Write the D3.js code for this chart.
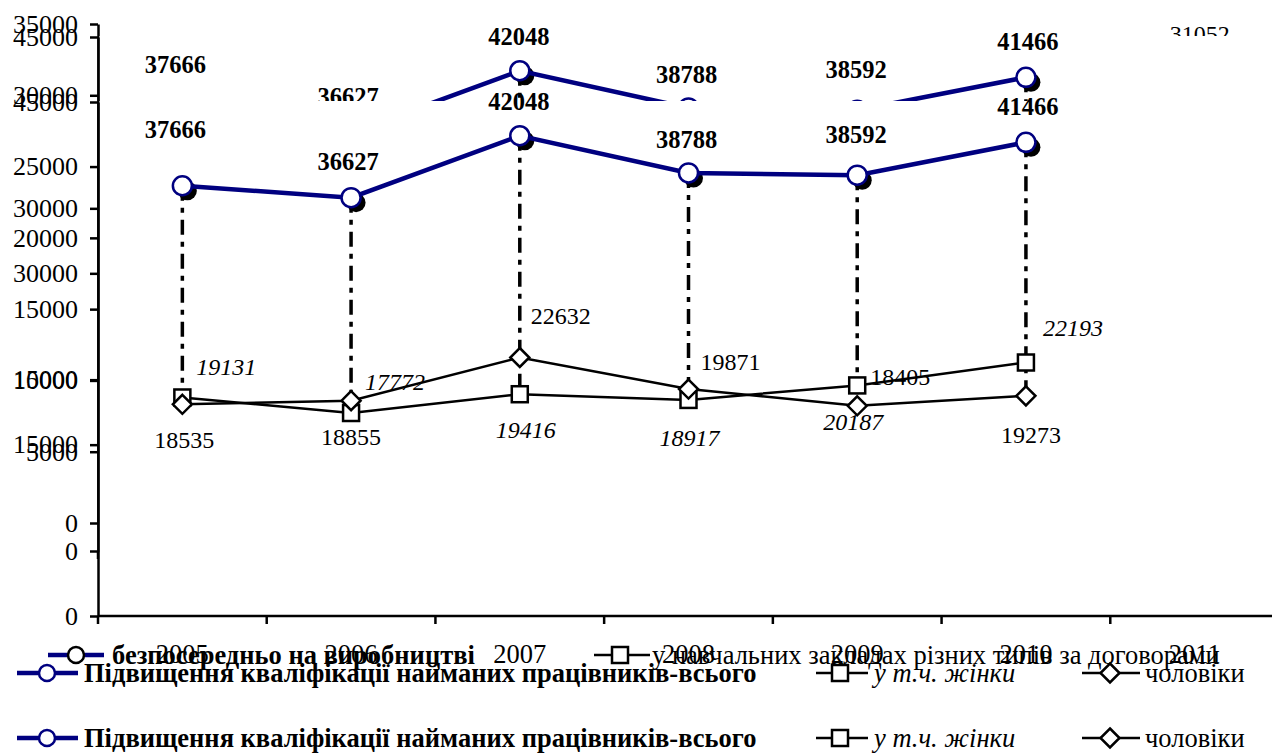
<!DOCTYPE html>
<html><head><meta charset="utf-8">
<script src="https://cdn.jsdelivr.net/npm/d3@7"></script>
<style>
body{margin:0;background:#fff;overflow:hidden}
text{font-family:"Liberation Serif","Times New Roman",serif;fill:#000}
</style>
</head><body>
<svg id="chart" width="1272" height="753"></svg>
<script>
// ---------- data ----------
const years = ["2005","2006","2007","2008","2009","2010","2011"];
const totalWorkers = [37666, 36627, 42048, 38788, 38592, 41466];
const women = [19131, 17772, 19416, 18917, 20187, 22193];
const men = [18535, 18855, 22632, 19871, 18405, 19273];
const directProductionYears = ["2011"];
const directProduction = [31052];
const ticksBack = [0, 5000, 10000, 15000, 20000, 25000, 30000, 35000];
const ticksMain = [0, 15000, 30000, 45000];
const nameTotal = "Підвищення кваліфікації найманих працівників-всього";
const nameWomen = "у т.ч. жінки";
const nameMen = "чоловіки";
const nameDirect = "безпосередньо на виробництві";
const nameSchools = "у навчальних закладах різних типів за договорами";

// label nudges (manual placement, as in the source)
const totalNudge = [[-7,-48],[-3,-28],[-1,-26],[-2,-25],[-1,-32],[2,-27]];
const womenNudge = [[44,-22],[44,-23],[6,44],[1,46],[-4,45],[47,-27]];
const menNudge = [[2,44],[0,44],[41,-33],[42,-19],[43,-21],[5,47]];

// ---------- setup ----------
const FONT = "Liberation Serif";
const svg = d3.select("#chart");
const NAVY = "#000080";
const x = d3.scaleBand().domain(years).range([98, 1279]).padding(0);
const cx = d => x(d) + x.bandwidth() / 2;
const yBack = d3.scaleLinear().domain([0, 35000]).range([523, 24]);
const yUpper = d3.scaleLinear().domain([0, 45000]).range([551, 37]);
const yMain = d3.scaleLinear().domain([0, 45000]).range([616, 102]);

function yAxis(g, y, ticks) {
  const ax = g.append("g").attr("transform", "translate(98,0)")
    .call(d3.axisLeft(y).tickValues(ticks).tickSize(8).tickSizeOuter(0)
      .tickPadding(12).tickFormat(d3.format("d")));
  ax.attr("font-family", FONT).attr("font-size", 26);
  ax.select(".domain").attr("stroke", "#000").attr("stroke-width", 2.5);
  ax.selectAll(".tick line").attr("stroke", "#000").attr("stroke-width", 2.5);
  ax.selectAll(".tick text").attr("font-size", 26).attr("font-family", FONT).attr("fill", "#000");
}

function diamondPath(s) { return `M0,${-s}L${s},0L0,${s}L${-s},0Z`; }

function marker(g, type, px, py, color) {
  if (type === "circle") {
    g.append("circle").attr("cx", px).attr("cy", py).attr("r", 8)
      .attr("fill", "#fff").attr("stroke", color || NAVY).attr("stroke-width", 2.5);
  } else if (type === "square") {
    g.append("rect").attr("x", px - 8).attr("y", py - 8).attr("width", 16).attr("height", 16)
      .attr("fill", "#fff").attr("stroke", "#000").attr("stroke-width", 2.5);
  } else {
    g.append("path").attr("d", diamondPath(9.5)).attr("transform", `translate(${px},${py})`)
      .attr("fill", "#fff").attr("stroke", "#000").attr("stroke-width", 2.5);
  }
}

function legendItem(g, type, x0, x1, mx, ty, text, tx, style) {
  const thick = type === "circle";
  g.append("line").attr("x1", x0).attr("x2", x1).attr("y1", ty).attr("y2", ty)
    .attr("stroke", thick ? NAVY : "#000").attr("stroke-width", thick ? 4.5 : 2.5);
  marker(g, type, mx, ty, style.mcolor);
  g.append("text").attr("x", tx).attr("y", ty + 9).attr("font-size", 26.5)
    .attr("font-family", FONT)
    .attr("font-weight", style.bold ? "bold" : "normal")
    .attr("font-style", style.italic ? "italic" : "normal").text(text);
}

// ---------- layer 1 (background chart) ----------
const L1 = svg.append("g");
yAxis(L1, yBack, ticksBack);
L1.selectAll("text.dp").data(directProduction).join("text").attr("class", "dp")
  .attr("x", (d, i) => cx(directProductionYears[i]) + 5)
  .attr("y", d => yBack(d) - 38)
  .attr("text-anchor", "middle").attr("font-size", 24).attr("font-family", FONT).text(d => d);
legendItem(L1, "circle", 48, 104, 76, 655, nameDirect, 112, {bold: true, mcolor: "#000"});
legendItem(L1, "square", 594, 650, 620, 655, nameSchools, 652, {});

// ---------- main layer drawing ----------
function mainLayer(y, legendY, showXLabels) {
  const g = svg.append("g").attr("font-family", FONT);
  g.append("rect").attr("x", 99.5).attr("y", y.range()[1] - 1).attr("width", 1272 - 99.5)
    .attr("height", y.range()[0] - y.range()[1] + 1).attr("fill", "#fff");
  yAxis(g, y, ticksMain);

  // x axis
  const base = y(0);
  g.append("line").attr("x1", 98).attr("x2", 1279).attr("y1", base).attr("y2", base)
    .attr("stroke", "#000").attr("stroke-width", 2.5);
  const edges = years.map(d => x(d)).concat([x.range()[1]]);
  g.selectAll("line.xt").data(edges).join("line").attr("class", "xt")
    .attr("x1", d => d).attr("x2", d => d).attr("y1", base).attr("y2", base + 8)
    .attr("stroke", "#000").attr("stroke-width", 2.5);
  if (showXLabels) {
    g.selectAll("text.xl").data(years).join("text").attr("class", "xl")
      .attr("x", d => cx(d)).attr("y", base + 47).attr("text-anchor", "middle")
      .attr("font-size", 26.5).attr("font-family", FONT).text(d => d);
  }

  const yrs = years.slice(0, totalWorkers.length);
  // drop lines
  g.selectAll("line.drop").data(yrs).join("line").attr("class", "drop")
    .attr("x1", d => cx(d)).attr("x2", d => cx(d))
    .attr("y1", (d, i) => y(totalWorkers[i]))
    .attr("y2", (d, i) => y(Math.min(women[i], men[i])))
    .attr("stroke", "#000").attr("stroke-width", 3.5).attr("stroke-dasharray", "15,7,5,7");

  // women & men lines
  const line = d3.line().x((d, i) => cx(yrs[i])).y(d => y(d));
  g.append("path").attr("d", line(women)).attr("fill", "none").attr("stroke", "#000").attr("stroke-width", 2.5);
  g.append("path").attr("d", line(men)).attr("fill", "none").attr("stroke", "#000").attr("stroke-width", 2.5);
  women.forEach((v, i) => marker(g, "square", cx(yrs[i]), y(v)));
  men.forEach((v, i) => marker(g, "diamond", cx(yrs[i]), y(v)));

  // total
  g.selectAll("circle.sh").data(totalWorkers).join("circle").attr("class", "sh")
    .attr("cx", (d, i) => cx(yrs[i]) + 5).attr("cy", d => y(d) + 5).attr("r", 9.5).attr("fill", "#000");
  g.append("path").attr("d", line(totalWorkers)).attr("fill", "none").attr("stroke", NAVY).attr("stroke-width", 4.5);
  g.selectAll("circle.tot").data(totalWorkers).join("circle").attr("class", "tot")
    .attr("cx", (d, i) => cx(yrs[i])).attr("cy", d => y(d)).attr("r", 9.5)
    .attr("fill", "#fff").attr("stroke", NAVY).attr("stroke-width", 2.5);

  // labels
  g.selectAll("text.tl").data(totalWorkers).join("text").attr("class", "tl")
    .attr("x", (d, i) => cx(yrs[i]) + totalNudge[i][0]).attr("y", (d, i) => y(d) + totalNudge[i][1])
    .attr("text-anchor", "middle").attr("font-size", 24.5).attr("font-weight", "bold").text(d => d);
  g.selectAll("text.wl").data(women).join("text").attr("class", "wl")
    .attr("x", (d, i) => cx(yrs[i]) + womenNudge[i][0]).attr("y", (d, i) => y(d) + womenNudge[i][1])
    .attr("text-anchor", "middle").attr("font-size", 24).attr("font-style", "italic").text(d => d);
  g.selectAll("text.ml").data(men).join("text").attr("class", "ml")
    .attr("x", (d, i) => cx(yrs[i]) + menNudge[i][0]).attr("y", (d, i) => y(d) + menNudge[i][1])
    .attr("text-anchor", "middle").attr("font-size", 24).text(d => d);

  // legend
  legendItem(g, "circle", 17, 78, 47, legendY, nameTotal, 84, {bold: true});
  legendItem(g, "square", 816, 868, 840, legendY, nameWomen, 874, {italic: true});
  legendItem(g, "diamond", 1082, 1140, 1110, legendY, nameMen, 1145, {});
}

mainLayer(yUpper, 673, false);
mainLayer(yMain, 738, true);
</script>
</body></html>
